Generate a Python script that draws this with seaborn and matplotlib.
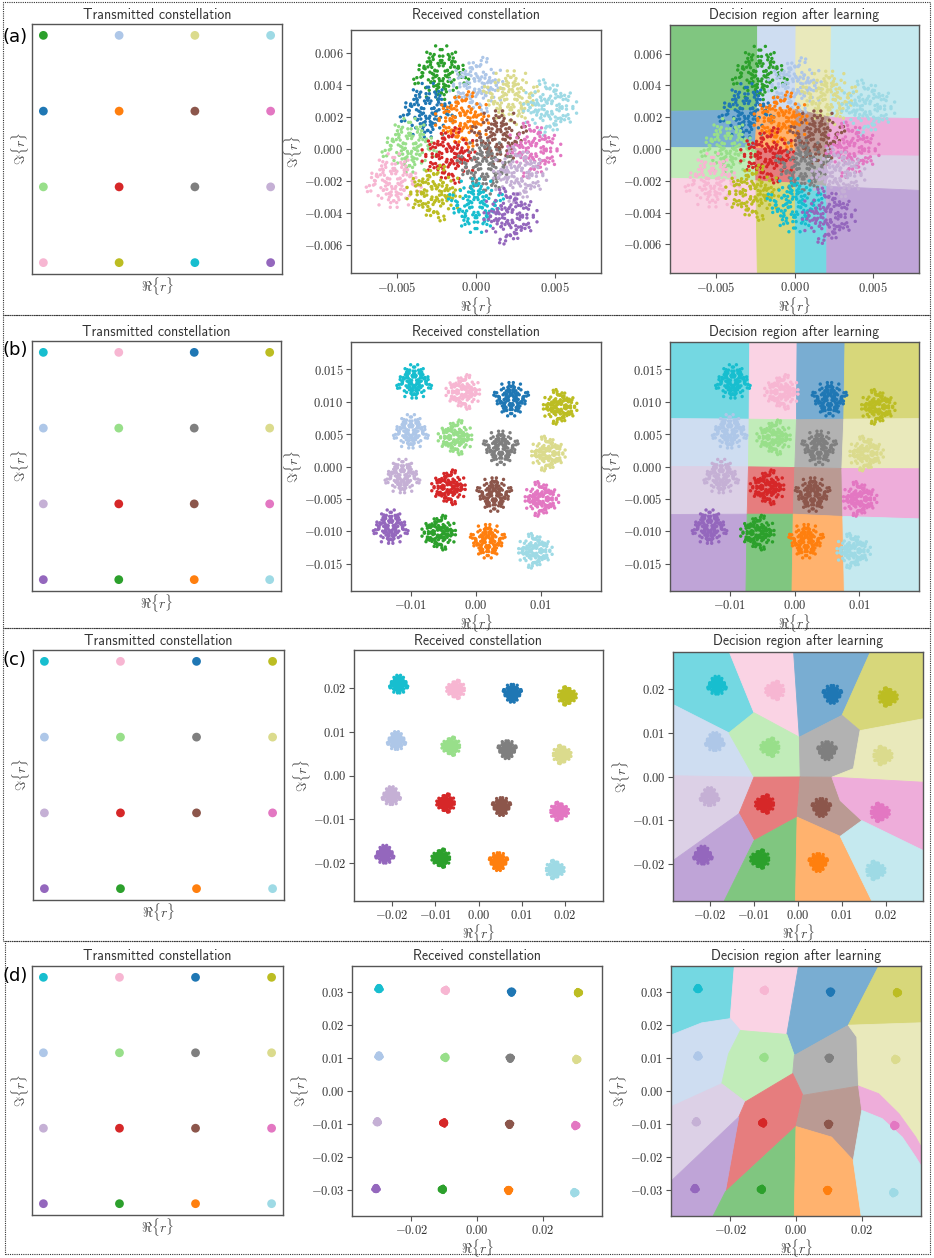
import numpy as np
import pandas as pd
import matplotlib
matplotlib.use("Agg")
import matplotlib.pyplot as plt
import matplotlib.colors as mcolors
from matplotlib.patches import Rectangle
import seaborn as sns

# SYMBOL COLOURS (tab20 minus the four light tones the plots never use)

sym_names = ["blue", "lightblue", "orange", "green", "lightgreen", "red", "purple",
             "lightpurple", "brown", "pink", "lightpink", "gray", "olive",
             "lightolive", "cyan", "lightcyan"]
sym_hex = ["#1f77b4", "#aec7e8", "#ff7f0e", "#2ca02c", "#98df8a", "#d62728", "#9467bd",
           "#c5b0d5", "#8c564b", "#e377c2", "#f7b6d2", "#7f7f7f", "#bcbd22",
           "#dbdb8d", "#17becf", "#9edae5"]

# symbol labelling of the 4x4 grid (top row first, left to right)
grid_a = [["green", "lightblue", "lightolive", "lightcyan"],
          ["blue", "orange", "brown", "pink"],
          ["lightgreen", "red", "gray", "lightpurple"],
          ["lightpink", "olive", "cyan", "purple"]]
grid_bcd = [["cyan", "lightpink", "blue", "olive"],
            ["lightblue", "lightgreen", "gray", "lightolive"],
            ["lightpurple", "red", "brown", "pink"],
            ["purple", "green", "orange", "lightcyan"]]

# transmitted 16-QAM levels
tx_cols = [-3, -1, 1, 3]
tx_rows = [3, 1, -1, -3]

# RECEIVED CLUSTER CENTRES (units of 1e-3), same order as the grids

rx_a_x = [[-2.2, 0.1, 2.2, 4.6], [-3.05, -0.8, 1.45, 3.6],
          [-4.2, -1.65, 0.55, 2.7], [-5.2, -2.6, 0.0, 2.1]]
rx_a_y = [[4.7, 4.0, 3.3, 2.6], [2.35, 1.85, 0.8, -0.05],
          [0.15, -0.4, -1.05, -1.6], [-2.05, -2.75, -3.45, -4.2]]

rx_b_x = [[-9.5, -1.9, 5.4, 12.8], [-10.0, -3.1, 3.8, 11.0],
          [-11.3, -4.1, 2.8, 10.0], [-13.1, -5.6, 1.8, 9.0]]
rx_b_y = [[13.0, 11.5, 10.5, 9.2], [5.3, 4.5, 3.0, 2.0],
          [-1.6, -3.2, -4.2, -5.0], [-9.4, -10.2, -11.4, -13.0]]

rx_c_x = [[-18.4, -5.2, 7.8, 20.4], [-18.9, -6.3, 6.6, 19.2],
          [-20.1, -7.5, 5.3, 18.6], [-21.6, -8.6, 4.6, 17.6]]
rx_c_y = [[20.8, 19.7, 18.9, 18.2], [7.9, 6.7, 6.0, 4.8],
          [-4.7, -6.3, -7.0, -8.2], [-18.1, -18.9, -19.6, -21.5]]

rx_d_x = [[-29.8, -9.6, 10.5, 30.8], [-29.8, -9.7, 10.1, 30.3],
          [-30.3, -10.1, 9.9, 30.0], [-30.7, -10.5, 9.6, 29.7]]
rx_d_y = [[31.1, 30.6, 30.1, 29.9], [10.6, 10.2, 10.0, 9.6],
          [-9.4, -9.7, -10.1, -10.5], [-29.7, -29.9, -30.2, -30.9]]

# cluster spread per panel row (1e-3)
spreads = [0.75, 1.15, 0.9, 0.4]

# fixed scatter pattern (unit spread) used around every centre
noise_x = [0.12, -1.35, 0.67, 1.58, -0.44, 0.91, -0.08, -2.05, 0.33, 1.12,
           -0.71, 0.25, -1.62, 0.84, 0.02, -0.29, 1.87, -0.95, 0.48, -0.17,
           1.31, -1.08, 0.59, -0.52, 2.21, -0.36, 0.76, -1.84, 0.18, 1.02,
           -0.63, 0.41, -1.21, 0.95, -0.02, 1.46, -0.88, 0.27, -0.47, 0.63,
           -1.44, 1.71, -0.21, 0.07, -1.01, 0.53, 1.24, -0.79, 0.36, -2.31,
           0.88, -0.14, 1.55, -0.58, 0.21, -1.17, 0.69, -0.33, 1.93, -0.92]
noise_y = [-0.57, 0.43, 1.21, -0.18, -1.49, 0.77, 2.03, -0.31, -0.94, 0.59,
           1.44, -1.73, 0.11, -0.66, 0.95, -2.12, 0.36, 1.07, -0.22, 0.68,
           -1.15, -0.49, 1.62, 0.26, -0.81, -1.27, 0.04, 0.72, -0.39, 1.33,
           -0.05, -0.98, 1.81, 0.15, -1.58, 0.49, -0.71, 0.88, 2.34, -1.02,
           0.63, -0.27, -0.84, 1.12, -1.36, 0.31, -1.92, 0.55, -0.13, -0.44,
           0.97, 1.49, 0.08, -0.62, -1.11, 1.01, -0.35, 0.24, -0.76, 1.68]

# DECISION REGIONS (1e-3). (a),(b): distorted 5x5 vertex grids

dec_a_gx = [[-9, -2.34, 0.10, 2.36, 9],
            [-9, -2.37, 0.07, 2.25, 9],
            [-9, -2.50, 0.05, 2.10, 9],
            [-9, -2.45, 0.05, 2.05, 9],
            [-9, -2.34, 0.05, 2.05, 9]]
dec_a_gy = [[9, 9, 9, 9, 9],
            [2.36, 2.45, 2.50, 2.00, 1.90],
            [0.10, 0.07, -0.15, -0.40, -0.45],
            [-1.80, -2.00, -2.15, -2.35, -2.65],
            [-9, -9, -9, -9, -9]]

dec_b_gx = [[-20, -6.9, 0.4, 7.8, 20],
            [-20, -7.0, 0.3, 7.6, 20],
            [-20, -7.1, 0.05, 7.3, 20],
            [-20, -7.3, -0.2, 7.45, 20],
            [-20, -7.5, -0.4, 7.7, 20]]
dec_b_gy = [[20, 20, 20, 20, 20],
            [7.4, 7.3, 7.2, 7.3, 7.4],
            [0.0, -0.05, -0.15, -0.3, -0.35],
            [-7.4, -7.35, -7.35, -7.7, -8.1],
            [-20, -20, -20, -20, -20]]

# (c),(d): vertex tables + polygons per symbol
dec_c_pts = [(-30, 30), (30, 30), (-30, -30), (30, -30),
             (-16.2, 30), (-10.0, 14.6), (-15.7, 10.0), (-30, 17.3),
             (-1.1, 30), (0.3, 9.0), (17.1, 30), (10.0, 14.0),
             (14.1, 10.5), (30, 13.5), (12.6, 1.8), (7.7, -0.15),
             (30, -1.4), (0.5, -0.1), (-10.0, -0.15), (-30, 0.2),
             (-13.4, -8.5), (-30, -20.4), (-10.0, -14.7), (-17.5, -30),
             (-0.2, -9.3), (-0.6, -30), (9.6, -5.5), (14.5, -10.1),
             (9.6, -13.7), (30, -17.7), (17.5, -30)]
dec_c_cells = {"cyan": [0, 4, 5, 6, 7], "lightpink": [4, 8, 9, 5],
               "blue": [8, 10, 11, 9], "olive": [10, 1, 13, 12, 11],
               "lightblue": [7, 6, 18, 19], "lightgreen": [6, 5, 9, 17, 18],
               "gray": [9, 11, 12, 14, 15, 17], "lightolive": [12, 13, 16, 15, 14],
               "lightpurple": [19, 18, 20, 21], "red": [18, 17, 24, 22, 20],
               "brown": [17, 15, 26, 27, 28, 24], "pink": [15, 16, 29, 27, 26],
               "purple": [21, 20, 22, 23, 2], "green": [22, 24, 25, 23],
               "orange": [24, 28, 30, 25], "lightcyan": [28, 27, 29, 3, 30]}

dec_d_pts = [(-40, 40), (40, 40), (-40, -40), (40, -40),
             (-18.6, 40), (-20.0, 22.0), (-16.9, 18.4), (-2.8, 17.2),
             (1.1, 40), (26.2, 40), (15.9, 20.0), (-0.5, 10.8),
             (40, 20.8), (19.0, 1.5), (-1.0, 5.3), (-15.4, -3.3),
             (-22.6, 2.2), (-20.5, 11.3), (-17.4, -7.9), (-21.5, -30.7),
             (0.0, -10.8), (-0.55, -40), (-26.2, -40), (10.8, -14.0),
             (17.4, -21.1), (20.1, -40), (20.0, -5.9), (18.5, 16.4),
             (2.1, -1.3), (-28.7, 20.7), (-40, 16.2), (-40, -5.7),
             (-40, -29.3), (25.1, -0.8), (31.3, -6.9), (36.4, -14.0),
             (40, -20.5), (26.2, -8.4), (32.3, -14.0), (36.4, -20.1),
             (40, -26.0)]
dec_d_cells = {"cyan": [0, 4, 5, 29, 30], "lightpink": [4, 8, 7, 6, 5],
               "blue": [8, 9, 10, 11, 7], "olive": [9, 1, 12, 10],
               "lightblue": [30, 29, 5, 6, 17, 16, 31],
               "lightgreen": [6, 7, 11, 14, 15, 16, 17],
               "gray": [11, 10, 27, 13, 28, 14],
               "lightolive": [10, 12, 36, 35, 34, 33, 13, 27],
               "lightpurple": [31, 16, 15, 18, 32], "red": [15, 14, 28, 20, 19, 18],
               "brown": [28, 13, 26, 24, 23, 20],
               "pink": [13, 33, 34, 35, 36, 40, 39, 38, 37, 26],
               "purple": [32, 18, 19, 22, 2], "green": [19, 20, 21, 22],
               "orange": [20, 23, 24, 25, 21],
               "lightcyan": [24, 26, 37, 38, 39, 40, 3, 25]}

# AXIS LIMITS AND TICKS

rx_xlim = [(-0.0079, 0.0079), (-0.0192, 0.0192), (-0.0287, 0.0287), (-0.038, 0.038)]
rx_ylim = [(-0.00775, 0.00745), (-0.0192, 0.0192), (-0.0287, 0.0287), (-0.038, 0.038)]
dec_xlim = [(-0.0079, 0.0079), (-0.0192, 0.0192), (-0.0284, 0.0284), (-0.038, 0.038)]
dec_ylim = [(-0.0078, 0.0078), (-0.0192, 0.0192), (-0.0285, 0.0285), (-0.038, 0.038)]
xticks = [[-0.005, 0.0, 0.005], [-0.01, 0.0, 0.01],
          [-0.02, -0.01, 0.0, 0.01, 0.02], [-0.02, 0.0, 0.02]]
yticks = [[-0.006, -0.004, -0.002, 0.0, 0.002, 0.004, 0.006],
          [-0.015, -0.01, -0.005, 0.0, 0.005, 0.01, 0.015],
          [-0.02, -0.01, 0.0, 0.01, 0.02],
          [-0.03, -0.02, -0.01, 0.0, 0.01, 0.02, 0.03]]
xfmt = ["{:.3f}", "{:.2f}", "{:.2f}", "{:.2f}"]
yfmt = ["{:.3f}", "{:.3f}", "{:.2f}", "{:.2f}"]
tags = ["(a)", "(b)", "(c)", "(d)"]

# STYLE

sns.set_style("ticks")
plt.rcParams["mathtext.fontset"] = "cm"
plt.rcParams["font.family"] = ["DejaVu Sans"]

pal = dict(zip(sym_names, sym_hex))
light = {n: tuple(1 - 0.6 * (1 - v) for v in mcolors.to_rgb(h)) for n, h in pal.items()}
rot = [(1, 0, 0, 1), (0, -1, 1, 0), (-1, 0, 0, -1), (0, 1, -1, 0)]
nx, ny = np.array(noise_x), np.array(noise_y)

W, H = 934, 1258
fig = plt.figure(figsize=(W / 100, H / 100), dpi=100)


def add_ax(box):
    l, t, r, b = box
    return fig.add_axes([l / W, 1 - b / H, (r - l) / W, (b - t) / H])


def frame(ax):
    for s in ax.spines.values():
        s.set_visible(True)
        s.set_color("#555555")
        s.set_linewidth(1.0)


def set_ticks(ax, i):
    ax.set_xticks(xticks[i])
    ax.set_xticklabels(["$" + xfmt[i].format(v) + "$" for v in xticks[i]])
    ax.set_yticks(yticks[i])
    ax.set_yticklabels(["$" + yfmt[i].format(v) + "$" for v in yticks[i]])
    ax.tick_params(direction="out", length=3.5, width=0.8, color="#555555",
                   labelsize=9, labelcolor="#333333", pad=2)


def labels(ax, pad):
    ax.set_xlabel(r"$\Re\{r\}$", fontsize=10, color="#444444", labelpad=pad)
    ax.set_ylabel(r"$\Im\{r\}$", fontsize=10, color="#444444", labelpad=pad)


def received_df(grid, cx, cy, spread):
    xs, ys, names = [], [], []
    k = 0
    for r in range(4):
        for c in range(4):
            a, b, cc, d = rot[k % 4]
            p, q, s_, t = rot[(k + 1) % 4]
            dx = np.concatenate([a * nx + b * ny, p * ny + q * nx])
            dy = np.concatenate([cc * nx + d * ny, s_ * ny + t * nx])
            xs.append((cx[r][c] + spread * dx) * 1e-3)
            ys.append((cy[r][c] + spread * dy) * 1e-3)
            names += [grid[r][c]] * len(dx)
            k += 1
    return pd.DataFrame({"x": np.concatenate(xs), "y": np.concatenate(ys), "sym": names})


def grid_cells(grid, gx, gy):
    cells = []
    for r in range(4):
        for c in range(4):
            px = [gx[r][c], gx[r][c + 1], gx[r + 1][c + 1], gx[r + 1][c]]
            py = [gy[r][c], gy[r][c + 1], gy[r + 1][c + 1], gy[r + 1][c]]
            cells.append((grid[r][c], px, py))
    return cells


def poly_cells(pts, cells):
    return [(n, [pts[i][0] for i in idx], [pts[i][1] for i in idx]) for n, idx in cells.items()]


# layout in pixels: (left, top, right, bottom)
tx_boxes = [(32, 24, 282, 274), (32, 341, 281, 591), (33, 650, 284, 900), (32, 966, 283, 1215)]
rx_boxes = [(351, 30, 601, 273), (351, 342, 601, 591), (354, 650, 603, 901), (352, 966, 602, 1216)]
dec_boxes = [(670, 25, 919, 273), (670, 342, 919, 591), (673, 652, 923, 901), (671, 966, 921, 1216)]
title_y = [15, 332, 641, 956]
tag_y = [37, 350, 660, 976]
row_frames = [(3, 2, 930, 315), (3, 315, 930, 628), (3, 628, 930, 941), (5, 941, 930, 1254)]

rx_x = [rx_a_x, rx_b_x, rx_c_x, rx_d_x]
rx_y = [rx_a_y, rx_b_y, rx_c_y, rx_d_y]
regions = [grid_cells(grid_a, dec_a_gx, dec_a_gy),
           grid_cells(grid_bcd, dec_b_gx, dec_b_gy),
           poly_cells(dec_c_pts, dec_c_cells),
           poly_cells(dec_d_pts, dec_d_cells)]

for i in range(4):
    grid = grid_a if i == 0 else grid_bcd

    # transmitted constellation
    tx = pd.DataFrame({"x": [tx_cols[c] for r in range(4) for c in range(4)],
                       "y": [tx_rows[r] for r in range(4) for c in range(4)],
                       "sym": [grid[r][c] for r in range(4) for c in range(4)]})
    ax = add_ax(tx_boxes[i])
    sns.scatterplot(data=tx, x="x", y="y", hue="sym", palette=pal, s=40,
                    linewidth=0, legend=False, ax=ax)
    ax.set_xlim(-3.3, 3.3)
    ax.set_ylim(-3.3, 3.3)
    ax.set_xticks([])
    ax.set_yticks([])
    frame(ax)
    labels(ax, 1)

    # received constellation
    df = received_df(grid, rx_x[i], rx_y[i], spreads[i])
    ax = add_ax(rx_boxes[i])
    sns.scatterplot(data=df, x="x", y="y", hue="sym", palette=pal, s=6,
                    linewidth=0, legend=False, ax=ax)
    ax.set_xlim(*rx_xlim[i])
    ax.set_ylim(*rx_ylim[i])
    set_ticks(ax, i)
    frame(ax)
    labels(ax, 0)

    # decision regions
    ax = add_ax(dec_boxes[i])
    for name, px, py in regions[i]:
        ax.fill(np.array(px) * 1e-3, np.array(py) * 1e-3, color=light[name],
                ec=light[name], lw=0.6, zorder=0)
    sns.scatterplot(data=df, x="x", y="y", hue="sym", palette=pal, s=6,
                    linewidth=0, legend=False, ax=ax, zorder=2)
    ax.set_xlim(*dec_xlim[i])
    ax.set_ylim(*dec_ylim[i])
    set_ticks(ax, i)
    frame(ax)
    labels(ax, 0)

    for box, title in [(tx_boxes[i], "Transmitted constellation"),
                       (rx_boxes[i], "Received constellation"),
                       (dec_boxes[i], "Decision region after learning")]:
        fig.text((box[0] + box[2]) / 2 / W, 1 - title_y[i] / H, title,
                 family="cmss10", fontsize=10, color="#333333",
                 ha="center", va="center")
    fig.text(3 / W, 1 - tag_y[i] / H, tags[i], fontsize=13, color="black",
             ha="left", va="center")

    l, t, r, b = row_frames[i]
    fig.patches.append(Rectangle((l / W, 1 - b / H), (r - l) / W, (b - t) / H,
                                 transform=fig.transFigure, fill=False,
                                 ls=(0, (1, 1)), lw=0.8, ec="#333333"))

fig.savefig("out.png", dpi=100)
